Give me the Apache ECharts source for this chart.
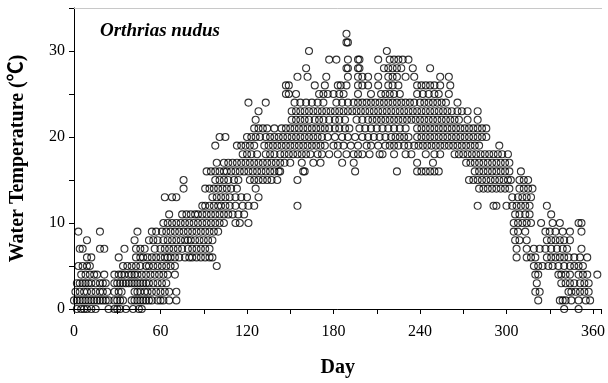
<!DOCTYPE html>
<html>
<head>
<meta charset="utf-8">
<script src="https://cdn.jsdelivr.net/npm/echarts@6/dist/echarts.min.js"></script>
<style>html,body{margin:0;padding:0;background:#fff}#c{width:608px;height:383px}</style>
</head>
<body>
<div id="c"></div>
<script>
const daysAt0 = [2,5,7,9,12,15,24,28,30,32,36,41,45,47,340,350];
const daysAt1 = [0,2,4,6,8,10,12,14,16,18,20,22,24,28,30,32,34,40,42,44,46,48,50,52,54,58,60,62,66,71,322,337,339,341,345,350,355,358];
const daysAt2 = [1,4,7,9,12,15,18,20,23,28,31,33,42,44,46,49,51,54,57,60,63,66,71,320,323,343,345,348,351,354,357];
const daysAt3 = [2,4,6,8,10,12,15,18,20,22,28,30,32,34,36,38,40,42,44,46,48,50,52,55,58,61,64,321,338,341,344,347,351,354,357];
const daysAt4 = [5,8,11,14,16,21,28,31,33,35,38,40,42,44,47,50,53,56,59,62,65,70,320,322,336,338,341,344,350,353,356,363];
const daysAt5 = [3,6,9,11,34,37,40,43,46,50,52,55,58,61,64,67,70,99,319,322,325,329,332,336,340,344,347,350,353];
const daysAt6 = [9,12,31,43,46,48,51,54,57,60,63,65,67,70,73,77,80,82,85,88,91,94,96,307,314,317,320,328,331,334,337,340,343,347,351,356];
const daysAt7 = [4,6,18,21,35,43,46,49,56,60,63,66,69,72,75,79,82,85,88,91,94,307,314,319,323,327,331,335,339,342,352];
const daysAt8 = [9,42,52,55,58,62,65,68,71,74,77,79,81,84,87,90,93,96,306,309,314,328,331,334,337,340,344];
const daysAt9 = [3,18,44,54,57,61,64,67,70,73,76,79,82,85,88,91,94,97,100,305,308,313,327,330,334,339,344,352];
const daysAt10 = [62,65,68,71,74,77,80,83,86,89,92,95,98,101,104,112,115,121,305,308,311,314,317,324,332,337,350,352];
const daysAt11 = [66,75,78,81,84,86,89,92,95,98,101,104,107,110,114,118,306,309,313,316,331];
const daysAt12 = [89,91,94,97,100,102,105,108,112,117,121,125,155,280,291,293,300,304,307,310,313,316,328];
const daysAt13 = [63,68,71,96,99,102,105,108,112,116,120,128,304,308,311,314,317];
const daysAt14 = [76,91,94,97,100,103,106,109,113,126,281,284,287,290,293,296,299,302,309,312,315,318];
const daysAt15 = [76,98,101,104,107,111,114,122,125,128,131,134,137,141,155,274,277,280,283,286,289,292,295,298,301,303,309,312,315];
const daysAt16 = [92,95,98,101,104,106,109,112,115,118,121,124,127,130,133,136,139,142,143,159,160,195,224,238,241,244,247,250,253,278,281,284,287,290,293,296,299,302,310];
const daysAt17 = [99,104,107,110,113,116,119,122,125,128,131,134,137,140,143,146,150,158,166,171,186,194,238,249,272,275,278,281,284,287,290,293,296,299,302];
const daysAt18 = [117,120,123,127,133,136,139,143,146,149,152,155,158,161,164,169,172,177,183,189,194,197,200,205,212,214,222,230,234,244,250,254,264,267,270,273,276,279,282,285,288,291,294,297,301];
const daysAt19 = [98,113,116,119,122,125,132,135,138,141,144,147,150,153,156,159,162,165,168,171,174,180,183,187,192,197,203,206,211,216,219,222,225,229,232,236,239,242,245,248,251,254,257,260,263,266,269,272,275,278,281,295];
const daysAt20 = [101,105,120,123,126,129,133,136,139,142,145,148,151,154,157,160,163,166,169,172,176,181,186,190,195,200,204,208,212,216,220,223,226,229,232,238,241,244,247,250,253,256,259,262,265,268,271,274,277,280,283,286];
const daysAt21 = [125,128,131,134,139,144,147,150,153,156,159,162,165,168,171,174,177,181,184,188,191,198,202,206,210,214,218,222,226,230,238,241,244,247,250,253,256,259,262,265,268,271,274,277,280,283,286];
const daysAt22 = [126,151,154,157,160,163,167,170,173,177,181,184,188,196,200,204,207,210,213,216,219,222,225,228,231,234,237,240,243,246,249,252,255,258,261,264,267,273,280];
const daysAt23 = [128,151,154,157,160,163,166,169,172,175,178,181,184,187,190,193,196,199,202,205,208,211,214,217,220,223,226,229,232,235,238,241,244,247,250,253,256,259,262,266,269,273,280];
const daysAt24 = [121,133,153,157,161,165,169,173,182,186,190,194,197,200,203,206,209,212,215,218,221,224,227,230,233,236,240,243,246,249,252,255,258,266];
const daysAt25 = [147,149,154,170,173,176,180,184,187,197,206,213,216,219,222,226,238,242,246,250,253,260];
const daysAt26 = [147,149,167,174,183,185,189,197,200,204,211,218,221,225,238,241,244,247,250,254,261];
const daysAt27 = [155,162,175,190,197,200,204,211,218,221,224,230,236,254,260];
const daysAt28 = [161,189,190,197,198,215,218,221,224,227,235,247];
const daysAt29 = [177,182,190,197,198,211,219,222,225,228,232];
const daysAt30 = [163,217];
const daysAt31 = [189,190];
const daysAt32 = [189];

const title = 'Orthrias nudus';
const xName = 'Day';
const yName = 'Water Temperature (℃)';
const xLabelStep = 60;
const yLabelStep = 10;

const rows = [daysAt0,daysAt1,daysAt2,daysAt3,daysAt4,daysAt5,daysAt6,daysAt7,daysAt8,daysAt9,
  daysAt10,daysAt11,daysAt12,daysAt13,daysAt14,daysAt15,daysAt16,daysAt17,daysAt18,daysAt19,
  daysAt20,daysAt21,daysAt22,daysAt23,daysAt24,daysAt25,daysAt26,daysAt27,daysAt28,daysAt29,
  daysAt30,daysAt31,daysAt32];
const points = [];
rows.forEach((days, temp) => days.forEach(d => points.push([d, temp])));

const serif = '"Liberation Serif", "Times New Roman", "Noto Sans CJK SC", serif';
const chart = echarts.init(document.getElementById('c'), null, {renderer: 'canvas'});
chart.setOption({
  animation: false,
  backgroundColor: '#fff',
  title: {
    text: title, left: 95, top: 17,
    textStyle: {fontFamily: serif, fontStyle: 'italic', fontWeight: 'bold', fontSize: 19, color: '#000'}
  },
  grid: {left: 74, right: 3, top: 8, bottom: 70},
  xAxis: [{
    type: 'value', min: 0, max: 366, interval: 30,
    name: xName, nameLocation: 'middle', nameGap: 49,
    nameTextStyle: {fontFamily: serif, fontWeight: 'bold', fontSize: 20, color: '#000'},
    axisLine: {show: true, onZero: false, lineStyle: {color: '#000', width: 1}},
    axisTick: {show: true, inside: false, length: 5, lineStyle: {color: '#000'}},
    axisLabel: {fontFamily: serif, fontSize: 16, color: '#000', margin: 15,
      formatter: v => (v % xLabelStep === 0 ? String(v) : '')},
    splitLine: {show: false}
  }, {
    type: 'value', position: 'top', min: 0, max: 366,
    axisLine: {show: true, onZero: false, lineStyle: {color: '#c8c8c8', width: 1}},
    axisTick: {show: false}, axisLabel: {show: false}, splitLine: {show: false}
  }],
  yAxis: {
    type: 'value', min: 0, max: 35, interval: 5,
    name: yName, nameLocation: 'middle', nameGap: 46,
    nameTextStyle: {fontFamily: serif, fontWeight: 'bold', fontSize: 20, color: '#000'},
    axisLine: {show: true, onZero: false, lineStyle: {color: '#000', width: 1}},
    axisTick: {show: true, inside: false, length: 5, lineStyle: {color: '#000'}},
    axisLabel: {fontFamily: serif, fontSize: 16, color: '#000', margin: 9,
      formatter: v => (v % yLabelStep === 0 && v < 35 ? String(v) : '')},
    splitLine: {show: false}
  },
  series: [{
    type: 'scatter', data: points, symbol: 'circle', symbolSize: 7,
    itemStyle: {color: 'rgba(0,0,0,0)', borderColor: '#000', borderWidth: 1.1}
  }]
});
</script>
</body>
</html>
